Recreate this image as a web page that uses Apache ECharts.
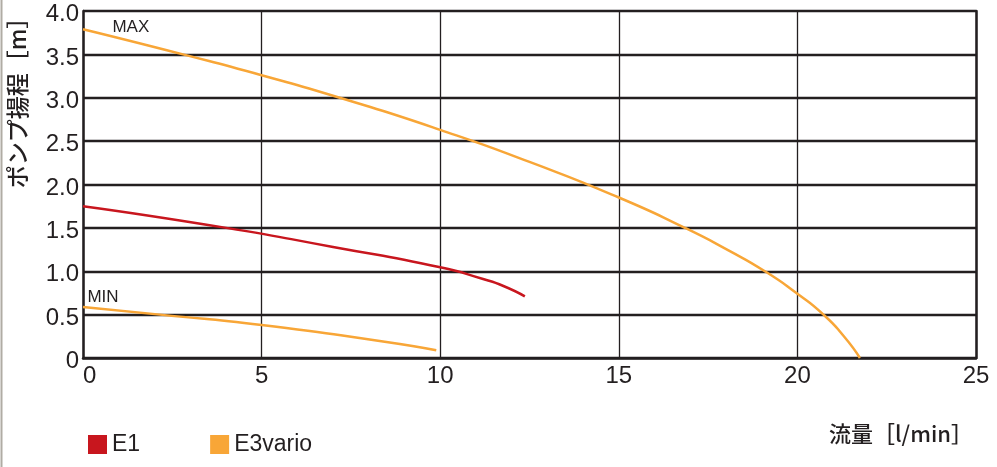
<!DOCTYPE html>
<html>
<head>
<meta charset="utf-8">
<script src="https://cdn.jsdelivr.net/npm/echarts@6/dist/echarts.min.js"></script>
<style>
html,body{margin:0;padding:0;background:#fff;}
#c{width:997px;height:467px;}
</style>
</head>
<body>
<div id="c"></div>
<script>
// Data (flow l/min, head m)
var e1Curve = [[0,1.75],[4.01,1.5],[7,1.28],[10,1.045],[11.2,0.91],[11.77,0.83],[12.37,0.71]];
var e3MaxCurve = [[0,3.79],[2.8,3.5],[5,3.26],[7.19,3.0],[10,2.63],[12.5,2.26],[15,1.85],[16.85,1.5],[18.07,1.24],[19.09,1.0],[20,0.74],[20.73,0.5],[21.3,0.25],[21.75,0]];
var e3MinCurve = [[0,0.588],[2.15,0.5],[5,0.38],[8.4,0.19],[9.89,0.089]];
var seriesNames = ['E1','E3vario'];
var maxLabelPos = [1.34,3.815];
var minLabelPos = [0.56,0.70];
var xTicks = {min:0,max:25,interval:5};
var yTicks = {min:0,max:4,interval:0.5};

var RED = '#c8161e', ORANGE = '#f8a637', INK = '#231f20';
var FONT = '"Liberation Sans", Arial, "Noto Sans CJK JP", sans-serif';
var JP = '"Noto Sans CJK JP", "Liberation Sans", sans-serif';

function lbl(text, pos){
  return {
    symbol:'circle', symbolSize:0,
    data:[{coord:pos, label:{show:true, position:'inside', formatter:text, color:INK, fontSize:17, fontFamily:FONT}}]
  };
}

var chart = echarts.init(document.getElementById('c'), null, {renderer:'canvas'});
chart.setOption({
  animation:false,
  backgroundColor:'#fff',
  grid:{left:83, right:21, top:11, bottom:109, containLabel:false},
  legend:{
    left:88, top:433, padding:0, itemWidth:19, itemHeight:19, itemGap:70, icon:'rect',
    data:seriesNames,
    textStyle:{color:INK, fontSize:23, fontFamily:FONT, padding:[2,0,0,0]}
  },
  xAxis:{
    type:'value', min:xTicks.min, max:xTicks.max, interval:xTicks.interval,
    axisLine:{show:true, lineStyle:{color:INK, width:2.5}},
    axisTick:{show:false},
    axisLabel:{color:INK, fontSize:24, fontFamily:FONT, margin:6, alignMinLabel:'left', alignMaxLabel:'center'},
    splitLine:{show:true, lineStyle:{color:INK, width:1.3}}
  },
  yAxis:[{
    type:'value', min:yTicks.min, max:yTicks.max, interval:yTicks.interval,
    axisLine:{show:true, lineStyle:{color:INK, width:2.5}},
    axisTick:{show:false},
    axisLabel:{color:INK, fontSize:24, fontFamily:FONT, margin:4,
      formatter:function(v){return '{a|' + (v===0?'0':v.toFixed(1)) + '}';},
      rich:{a:{color:INK, fontSize:24, fontFamily:FONT, padding:[7,0,0,0]}}},
    splitLine:{show:true, lineStyle:{color:INK, width:2.4}}
  },{
    type:'value', position:'right', min:yTicks.min, max:yTicks.max, interval:yTicks.interval,
    axisLine:{show:true, lineStyle:{color:INK, width:2.5}},
    axisTick:{show:false}, axisLabel:{show:false}, splitLine:{show:false}
  }],
  series:[
    {name:'E1', type:'line', data:e1Curve, smooth:0.6, showSymbol:false, lineStyle:{color:RED, width:2.5}, itemStyle:{color:RED}},
    {name:'E3vario', type:'line', data:e3MaxCurve, smooth:0.6, showSymbol:false, lineStyle:{color:ORANGE, width:2.5}, itemStyle:{color:ORANGE}, markPoint:lbl('MAX', maxLabelPos)},
    {name:'E3vario', type:'line', data:e3MinCurve, smooth:0.6, showSymbol:false, lineStyle:{color:ORANGE, width:2.5}, itemStyle:{color:ORANGE}, markPoint:lbl('MIN', minLabelPos)}
  ],
  graphic:[
    {type:'rect', shape:{x:0.5, y:0, width:2, height:467}, style:{fill:'#b0aca4'}, silent:true},
    {type:'text', x:17, y:97, rotation:Math.PI/2, silent:true,
      style:{text:'ポンプ揚程［m］', fill:INK, font:'500 23px '+JP, textAlign:'center', textVerticalAlign:'middle'}},
    {type:'text', x:901, y:434, silent:true,
      style:{text:'流量［l/min］', fill:INK, font:'500 22px '+JP, textAlign:'center', textVerticalAlign:'middle'}}
  ]
});
</script>
</body>
</html>
